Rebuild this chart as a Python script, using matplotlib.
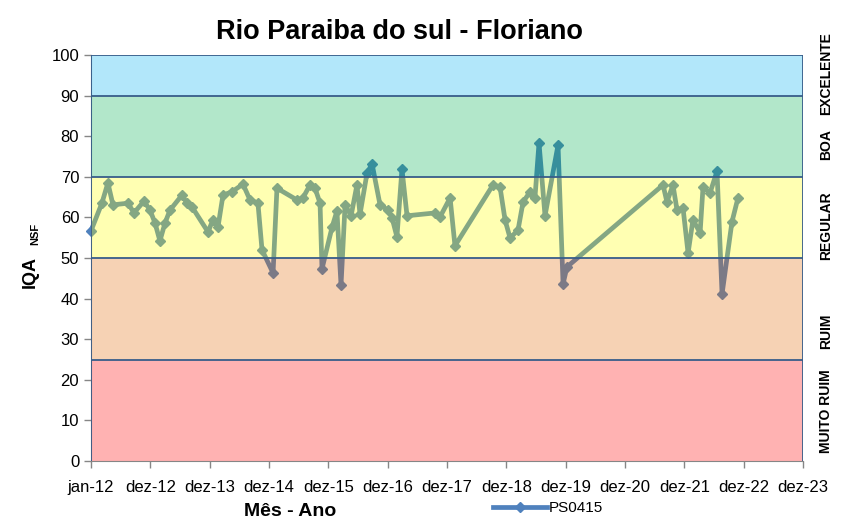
import matplotlib
matplotlib.use("Agg")
import matplotlib.pyplot as plt
from matplotlib.lines import Line2D
import pandas as pd
import datetime as dt

plt.rcParams['font.family'] = ['Liberation Sans Narrow', 'Liberation Sans', 'DejaVu Sans']

# sample dates and IQA values
dates = [
    '2012-01-01', '2012-03-08', '2012-04-14', '2012-05-15', '2012-08-16', '2012-09-21',
    '2012-11-22', '2012-12-29', '2013-01-29', '2013-02-28', '2013-03-31', '2013-05-01',
    '2013-07-14', '2013-08-13', '2013-09-13', '2013-12-21', '2014-01-20', '2014-02-20',
    '2014-03-23', '2014-05-17', '2014-07-24', '2014-09-05', '2014-10-24', '2014-11-18',
    '2015-01-25', '2015-02-18', '2015-06-21', '2015-07-28', '2015-09-09', '2015-10-10',
    '2015-11-10', '2015-11-22', '2016-01-23', '2016-02-22', '2016-03-18', '2016-04-12',
    '2016-05-19', '2016-06-24', '2016-07-13', '2016-08-25', '2016-09-25', '2016-11-13',
    '2017-01-01', '2017-01-26', '2017-02-25', '2017-03-28', '2017-04-28', '2017-10-17',
    '2017-11-17', '2018-01-18', '2018-02-17', '2018-10-09', '2018-11-21', '2018-12-22',
    '2019-01-22', '2019-03-12', '2019-04-12', '2019-05-25', '2019-06-24', '2019-07-19',
    '2019-08-25', '2019-11-13', '2019-12-14', '2020-01-07', '2021-08-20', '2021-09-13',
    '2021-10-20', '2021-11-14', '2021-12-21', '2022-01-21', '2022-02-20', '2022-04-05',
    '2022-04-23', '2022-06-05', '2022-07-18', '2022-08-18', '2022-10-18', '2022-11-24',
]
iqa = [
    56.7, 63.5, 68.5, 63.1, 63.5, 61.1,
    64.0, 61.8, 58.6, 54.2, 58.6, 61.8,
    65.5, 63.5, 62.6, 56.4, 59.4, 57.6,
    65.5, 66.3, 68.2, 64.3, 63.5, 52.0,
    46.3, 67.2, 64.3, 64.8, 68.0, 67.2,
    63.5, 47.3, 57.6, 61.6, 43.3, 63.1,
    60.4, 68.0, 60.8, 70.9, 73.2, 63.1,
    61.8, 59.9, 55.2, 71.9, 60.4, 61.1,
    60.1, 64.8, 53.0, 68.0, 67.5, 59.4,
    54.9, 56.9, 63.8, 66.3, 64.8, 78.3,
    60.4, 77.8, 43.6, 47.8, 68.0, 63.8,
    68.0, 61.8, 62.3, 51.2, 59.4, 56.2,
    67.5, 66.0, 71.4, 41.1, 58.9, 64.8,
]

tick_labels = ['jan-12', 'dez-12', 'dez-13', 'dez-14', 'dez-15', 'dez-16', 'dez-17',
               'dez-18', 'dez-19', 'dez-20', 'dez-21', 'dez-22', 'dez-23']

# quality classes
band_low = [0, 25, 50, 70, 90]
band_high = [25, 50, 70, 90, 100]
band_colors = ['#FF0000', '#E36C09', '#FFFF00', '#00B050', '#00B0F0']
band_names = ['MUITO RUIM', 'RUIM', 'REGULAR', 'BOA', 'EXCELENTE']
band_label_y = [12.3, 32, 58, 78, 95.5]

x = pd.to_datetime(dates)
start = dt.datetime(2012, 1, 1)
ticks = [start + dt.timedelta(days=365 * k) for k in range(len(tick_labels))]

fig = plt.figure(figsize=(8.44, 5.21), dpi=100)
ax = fig.add_axes([91 / 844, 1 - 461 / 521, 712 / 844, 406 / 521])

line_col = '#4F81BD'
ax.plot(x, iqa, color=line_col, lw=3.4, marker='D', ms=5.5, zorder=2, clip_on=False)

# bands are laid over the line with transparency, as in the original
for lo, hi, c in zip(band_low, band_high, band_colors):
    ax.axhspan(lo, hi, color=c, alpha=0.3, lw=0, zorder=3)
for y in [25, 50, 70, 90, 100]:
    ax.axhline(y, color='#385D8A', lw=1.3, zorder=4)
ax.axvline(ticks[0], color='#385D8A', lw=1.3, zorder=4)
ax.axvline(ticks[-1], color='#385D8A', lw=1.3, zorder=4)

ax.set_xlim(ticks[0], ticks[-1])
ax.set_ylim(0, 100)
ax.set_yticks(range(0, 101, 10))
ax.set_xticks(ticks)
ax.set_xticklabels(tick_labels)
ax.tick_params(axis='both', labelsize=12, color='#868686', length=5, width=1)
ax.tick_params(axis='x', pad=9)
for s in ['top', 'right']:
    ax.spines[s].set_visible(False)
for s in ['left', 'bottom']:
    ax.spines[s].set_color('#868686')

for name, yv in zip(band_names, band_label_y):
    ax.text(1.033, yv / 100, name, transform=ax.transAxes, rotation=90,
            ha='center', va='center', fontsize=10, fontweight='bold')

fig.text(399 / 844, 1 - 32 / 521, 'Rio Paraiba do sul - Floriano', ha='center', va='center',
         fontsize=19.5, fontweight='bold')
fig.text(30 / 844, 1 - 272 / 521, 'IQA', rotation=90, ha='center', va='center',
         fontsize=13, fontweight='bold')
fig.text(35 / 844, 1 - 234 / 521, 'NSF', rotation=90, ha='center', va='center',
         fontsize=8, fontweight='bold')
fig.text(290 / 844, 1 - 511 / 521, 'Mês - Ano', ha='center', va='center',
         fontsize=14, fontweight='bold')

handle = Line2D([], [], color=line_col, lw=3.4, marker='D', ms=5)
fig.legend([handle], ['PS0415'], loc='center', bbox_to_anchor=(548 / 844, 1 - 508 / 521),
           frameon=False, fontsize=11, handlelength=3.5, handletextpad=0.1)

fig.savefig('out.png', dpi=100)
